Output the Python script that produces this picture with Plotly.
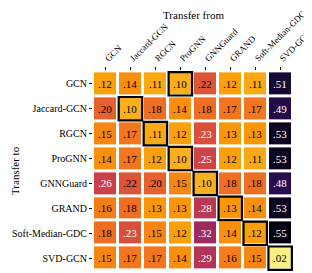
import plotly.graph_objects as go

models = ["GCN", "Jaccard-GCN", "RGCN", "ProGNN", "GNNGuard", "GRAND", "Soft-Median-GDC", "SVD-GCN"]
transfer_from = models
transfer_to = models

values = [
    [0.12, 0.14, 0.11, 0.10, 0.22, 0.12, 0.11, 0.51],
    [0.20, 0.10, 0.18, 0.14, 0.18, 0.17, 0.17, 0.49],
    [0.15, 0.17, 0.11, 0.12, 0.23, 0.13, 0.13, 0.53],
    [0.14, 0.17, 0.12, 0.10, 0.25, 0.12, 0.11, 0.53],
    [0.26, 0.22, 0.20, 0.15, 0.10, 0.18, 0.18, 0.48],
    [0.16, 0.18, 0.13, 0.13, 0.28, 0.13, 0.14, 0.53],
    [0.18, 0.23, 0.15, 0.12, 0.32, 0.14, 0.12, 0.55],
    [0.15, 0.17, 0.17, 0.14, 0.29, 0.16, 0.15, 0.02],
]

# column highlighted (best) in each row
highlight = ["ProGNN", "Jaccard-GCN", "RGCN", "ProGNN", "GNNGuard", "GRAND", "Soft-Median-GDC", "SVD-GCN"]

FONT = "Liberation Serif, Times New Roman, serif"

fig = go.Figure()
fig.add_trace(go.Heatmap(
    z=values, x=transfer_from, y=transfer_to,
    colorscale="Inferno", reversescale=True, zmin=0.0, zmax=0.56,
    xgap=3, ygap=3, showscale=False, hoverinfo="skip",
))

annotations = []
for i, row in enumerate(values):
    for j, v in enumerate(row):
        txt = ("%.2f" % v).lstrip("0")
        col = "white" if v >= 0.225 else "black"
        annotations.append(dict(x=transfer_from[j], y=transfer_to[i], text=txt, showarrow=False,
                                font=dict(family=FONT, size=11, color=col), xref="x", yref="y"))

shapes = []
for i, name in enumerate(highlight):
    j = transfer_from.index(name)
    shapes.append(dict(type="rect", xref="x", yref="y", x0=j - 0.47, x1=j + 0.47,
                       y0=i - 0.47, y1=i + 0.47, line=dict(color="black", width=2.2)))

# the page body adds an 8px offset, so the figure is drawn 8px smaller
fig.update_layout(
    width=304, height=265,
    margin=dict(l=85, r=19, t=63, b=2, autoexpand=False),
    paper_bgcolor="white", plot_bgcolor="white",
    font=dict(family=FONT, size=10, color="black"),
    shapes=shapes,
    annotations=annotations,
)
fig.add_annotation(text="Transfer from", x=0.5, xref="paper", y=1.0, yref="paper", yanchor="bottom",
                   yshift=48, showarrow=False, font=dict(family=FONT, size=11, color="black"))
fig.add_annotation(text="Transfer to", x=0, xref="paper", xshift=-86, y=0.5, yref="paper",
                   textangle=-90, showarrow=False, font=dict(family=FONT, size=11, color="black"))

fig.update_xaxes(side="top", tickangle=-45, ticks="outside", ticklen=3, tickcolor="black",
                 automargin=False, showgrid=False, zeroline=False, showline=False,
                 tickfont=dict(family=FONT, size=9))
fig.update_yaxes(autorange="reversed", ticks="outside", ticklen=3, tickcolor="black",
                 automargin=False, showgrid=False, zeroline=False, showline=False,
                 tickfont=dict(family=FONT, size=10))

fig.write_html("out.html")
